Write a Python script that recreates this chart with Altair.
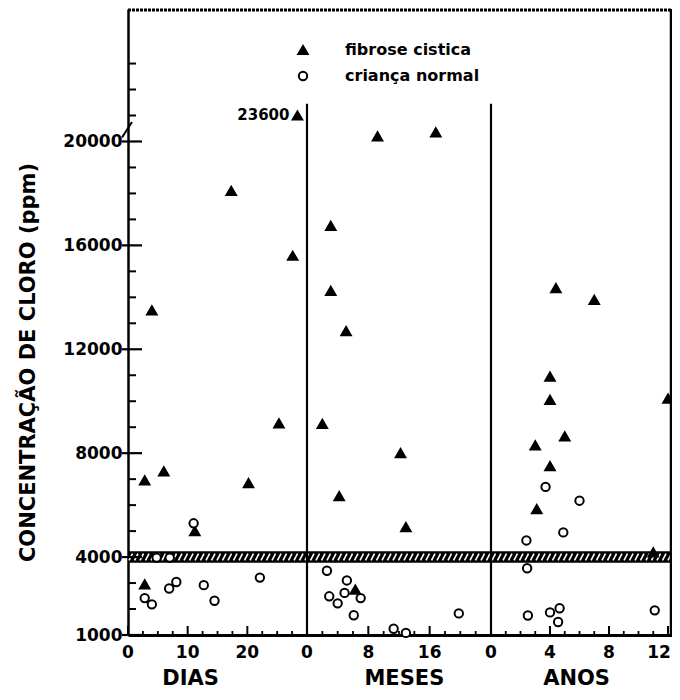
import altair as alt
import pandas as pd

GROUPS = ["fibrose cistica", "criança normal"]

# ---- data (time value, chloride ppm) ----
DIAS_FC_T = [2.8, 6.0, 20.2, 11.2, 2.8, 4.0, 25.3, 17.3, 27.6, 28.4]
DIAS_FC_C = [6950, 7300, 6850, 5000, 2950, 13500, 9150, 18100, 15600, 21000]
DIAS_N_T = [2.8, 4.0, 6.9, 8.1, 12.7, 14.5, 22.1, 11.0, 4.8, 7.0]
DIAS_N_C = [2420, 2180, 2790, 3040, 2920, 2320, 3210, 5300, 3980, 3980]

MESES_FC_T = [9.2, 16.8, 3.1, 3.1, 5.1, 2.0, 12.2, 4.2, 12.9, 6.3]
MESES_FC_C = [20200, 20350, 16750, 14250, 12700, 9130, 8000, 6350, 5150, 2750]
MESES_N_T = [2.6, 5.2, 2.9, 4.0, 4.9, 7.0, 6.1, 11.3, 12.9, 19.8]
MESES_N_C = [3475, 3100, 2490, 2220, 2620, 2420, 1760, 1240, 1080, 1830]

ANOS_FC_T = [4.4, 7.0, 4.0, 4.0, 12.0, 5.0, 3.0, 4.0, 3.1, 11.0]
ANOS_FC_C = [14350, 13900, 10950, 10050, 10100, 8650, 8300, 7500, 5850, 4180]
ANOS_N_T = [3.7, 6.0, 4.9, 2.4, 2.45, 2.5, 4.0, 4.65, 4.55, 11.1]
ANOS_N_C = [6700, 6170, 4950, 4640, 3570, 1750, 1870, 2030, 1500, 1950]

ANNOT_PANEL = ["DIAS"]
ANNOT_T = [28.4]
ANNOT_C = [21000]
ANNOT_TEXT = ["23600"]

PANEL_NAMES = ["DIAS", "MESES", "ANOS"]
PANEL_END = [30, 24, 12.3]
PANEL_TICK_LABELS = {"DIAS": [0, 10, 20], "MESES": [0, 8, 16], "ANOS": [0, 4, 8, 12]}
PANEL_MINOR_STEP = {"DIAS": 2.5, "MESES": 2, "ANOS": 1}
PANEL_TITLE_POS = [10.5, 12.7, 5.8]

Y_LABELS = [1000, 4000, 8000, 12000, 16000, 20000]
Y_MINOR = [v for v in range(1000, 24000, 1000) if v not in Y_LABELS]
BAND = [3780, 4220]
DIVIDER_TOP = 21450
Y_DOMAIN = [1000, 25100]

# ---- layout ----
W, H = 544, 626
OFF = {"DIAS": 0, "MESES": 179, "ANOS": 363}
K = {"DIAS": 179 / 30, "MESES": 184 / 24, "ANOS": 14.75}
FONT = "DejaVu Sans"
LEGEND_SYM_X, LEGEND_TXT_X, LEGEND_ROW_Y = 175, 217, [41, 67]

U_EXPR = (
    f"datum.panel == 'DIAS' ? datum.t * {K['DIAS']} : "
    f"(datum.panel == 'MESES' ? {OFF['MESES']} + datum.t * {K['MESES']} : "
    f"{OFF['ANOS']} + datum.t * {K['ANOS']})"
)

rows = []
for panel, ts, cs, g in [
    ("DIAS", DIAS_FC_T, DIAS_FC_C, GROUPS[0]),
    ("DIAS", DIAS_N_T, DIAS_N_C, GROUPS[1]),
    ("MESES", MESES_FC_T, MESES_FC_C, GROUPS[0]),
    ("MESES", MESES_N_T, MESES_N_C, GROUPS[1]),
    ("ANOS", ANOS_FC_T, ANOS_FC_C, GROUPS[0]),
    ("ANOS", ANOS_N_T, ANOS_N_C, GROUPS[1]),
]:
    for t, c in zip(ts, cs):
        rows.append({"panel": panel, "t": t, "conc": c, "grupo": g})
points_df = pd.DataFrame(rows)

xscale = alt.Scale(domain=[0, W], nice=False, zero=False)
yscale = alt.Scale(domain=Y_DOMAIN, nice=False, zero=False)

Y_AXIS = alt.Axis(
    values=Y_LABELS, format="d", ticks=False, labelPadding=6, labelFont=FONT, labelFontSize=17,
    labelFontWeight="bold", labelColor="black", domainColor="black", domainWidth=2.5,
    grid=False, title="CONCENTRAÇÃO DE CLORO (ppm)", titleFont=FONT, titleFontSize=21,
    titleFontWeight="bold", titleColor="black", titleAngle=270, titleX=-100, titleY=353,
    titleAlign="center", titleBaseline="middle",
)
X_AXIS = alt.Axis(labels=False, ticks=False, title=None, domainColor="black",
                  domainWidth=3, grid=False)

def X(field):
    return alt.X(field, type="quantitative", scale=xscale, axis=X_AXIS)

def Y(field):
    return alt.Y(field, type="quantitative", scale=yscale, axis=Y_AXIS)

SHAPE_SCALE = alt.Scale(domain=GROUPS, range=["triangle-up", "circle"])
FILL_SCALE = alt.Scale(domain=GROUPS, range=["black", "white"])
SIZE_SCALE = alt.Scale(domain=GROUPS, range=[90, 70])

# hatched reference band
band = alt.Chart(pd.DataFrame({"lo": [BAND[0]], "hi": [BAND[1]]})).mark_rect(
    color="black"
).encode(x=alt.value(0), x2=alt.value(W), y=Y("lo"), y2="hi")

hatch = alt.Chart(alt.sequence(1, W, 5.5, as_="u")).transform_calculate(
    u2="datum.u + 3.5"
).mark_rule(color="white", strokeWidth=1.6).encode(
    x=X("u"), x2="u2:Q", y=alt.datum(3870), y2=alt.datum(4130)
)

# panel dividers
div_df = pd.DataFrame({"panel": PANEL_NAMES[:2], "t": PANEL_END[:2],
                       "top": [DIVIDER_TOP] * 2, "bot": [Y_DOMAIN[0]] * 2})
dividers = alt.Chart(div_df).transform_calculate(u=U_EXPR).mark_rule(
    color="black", strokeWidth=2.2
).encode(x=X("u"), y=Y("top"), y2="bot")

# frame: top and right
top_frame = alt.Chart(pd.DataFrame({"a": [0]})).mark_rule(
    color="black", strokeWidth=3, strokeDash=[3, 1]
).encode(x=alt.value(0), x2=alt.value(W), y=alt.value(1))
right_frame = alt.Chart(pd.DataFrame({"a": [0]})).mark_rule(
    color="black", strokeWidth=2.5
).encode(x=alt.value(W - 1), y=alt.value(0), y2=alt.value(H))

# y ticks (inward)
ymaj = alt.Chart(pd.DataFrame({"v": Y_LABELS})).mark_rule(color="black", strokeWidth=2.2).encode(
    y=Y("v"), x=alt.value(-6), x2=alt.value(14))
ymin = alt.Chart(pd.DataFrame({"v": Y_MINOR})).mark_rule(color="black", strokeWidth=2).encode(
    y=Y("v"), x=alt.value(0), x2=alt.value(8))

# axis-break slash
brk = alt.Chart(pd.DataFrame({"a": [20150], "b": [20750]})).mark_rule(
    color="black", strokeWidth=2
).encode(x=alt.value(-6), x2=alt.value(4), y=Y("a"), y2="b")

# x ticks and labels
maj_rows, min_rows = [], []
for p, end in zip(PANEL_NAMES, PANEL_END):
    for v in PANEL_TICK_LABELS[p]:
        maj_rows.append({"panel": p, "t": v, "lab": str(v)})
    step = PANEL_MINOR_STEP[p]
    n = 1
    while n * step < end:
        v = n * step
        if v not in PANEL_TICK_LABELS[p]:
            min_rows.append({"panel": p, "t": v})
        n += 1
maj_df = pd.DataFrame(maj_rows)
min_df = pd.DataFrame(min_rows)

xmaj = alt.Chart(maj_df).transform_calculate(u=U_EXPR).mark_rule(
    color="black", strokeWidth=2).encode(x=X("u"), y=alt.value(H), y2=alt.value(H - 9))
xmin = alt.Chart(min_df).transform_calculate(u=U_EXPR).mark_rule(
    color="black", strokeWidth=1.8).encode(x=X("u"), y=alt.value(H), y2=alt.value(H - 4))
xlab = alt.Chart(maj_df).transform_calculate(u=U_EXPR).transform_calculate(
    ul=f"min(datum.u, {W - 13})"
).mark_text(
    font=FONT, fontSize=17, fontWeight="bold", color="black", baseline="middle", align="center"
).encode(x=X("ul"), y=alt.value(H + 18), text="lab:N")

title_df = pd.DataFrame({"panel": PANEL_NAMES, "t": PANEL_TITLE_POS, "lab": PANEL_NAMES})
xtitles = alt.Chart(title_df).transform_calculate(u=U_EXPR).mark_text(
    font=FONT, fontSize=21, fontWeight="bold", color="black", baseline="middle", align="center"
).encode(x=X("u"), y=alt.value(H + 44), text="lab:N")

# points
pts = alt.Chart(points_df).transform_calculate(u=U_EXPR).mark_point(
    filled=True, stroke="black", opacity=1, strokeWidth=2
).encode(
    x=X("u"),
    y=Y("conc"),
    shape=alt.Shape("grupo:N", scale=SHAPE_SCALE, legend=None),
    fill=alt.Fill("grupo:N", scale=FILL_SCALE, legend=None),
    size=alt.Size("grupo:N", scale=SIZE_SCALE, legend=None),
)

# legend (key drawn with the same shape / fill scales)
legend_layers = []
for g, ly in zip(GROUPS, LEGEND_ROW_Y):
    src = alt.Chart(pd.DataFrame({"grupo": [g]}))
    legend_layers.append(src.mark_point(filled=True, stroke="black", opacity=1, strokeWidth=2).encode(
        x=alt.value(LEGEND_SYM_X), y=alt.value(ly),
        shape=alt.Shape("grupo:N", scale=SHAPE_SCALE, legend=None),
        fill=alt.Fill("grupo:N", scale=FILL_SCALE, legend=None),
        size=alt.Size("grupo:N", scale=SIZE_SCALE, legend=None),
    ))
    legend_layers.append(src.mark_text(
        font=FONT, fontSize=16, fontWeight="bold", color="black", align="left", baseline="middle"
    ).encode(x=alt.value(LEGEND_TXT_X), y=alt.value(ly), text="grupo:N"))

annot_df = pd.DataFrame({"panel": ANNOT_PANEL, "t": ANNOT_T, "conc": ANNOT_C, "txt": ANNOT_TEXT})
annot = alt.Chart(annot_df).transform_calculate(u=U_EXPR).mark_text(
    font=FONT, fontSize=15, fontWeight="bold", color="black", align="right", baseline="middle", dx=-8
).encode(x=X("u"), y=Y("conc"), text="txt:N")

chart = alt.layer(
    band, hatch, dividers, top_frame, right_frame, ymaj, ymin, brk,
    xmaj, xmin, xlab, xtitles, pts, annot, *legend_layers
).properties(
    width=W, height=H,
    autosize=alt.AutoSizeParams(type="none"),
    padding={"left": 120, "top": 1, "right": 0, "bottom": 57},
    background="white",
).configure_view(stroke=None)

chart.save("out.html", embed_options={"renderer": "svg", "actions": False})
